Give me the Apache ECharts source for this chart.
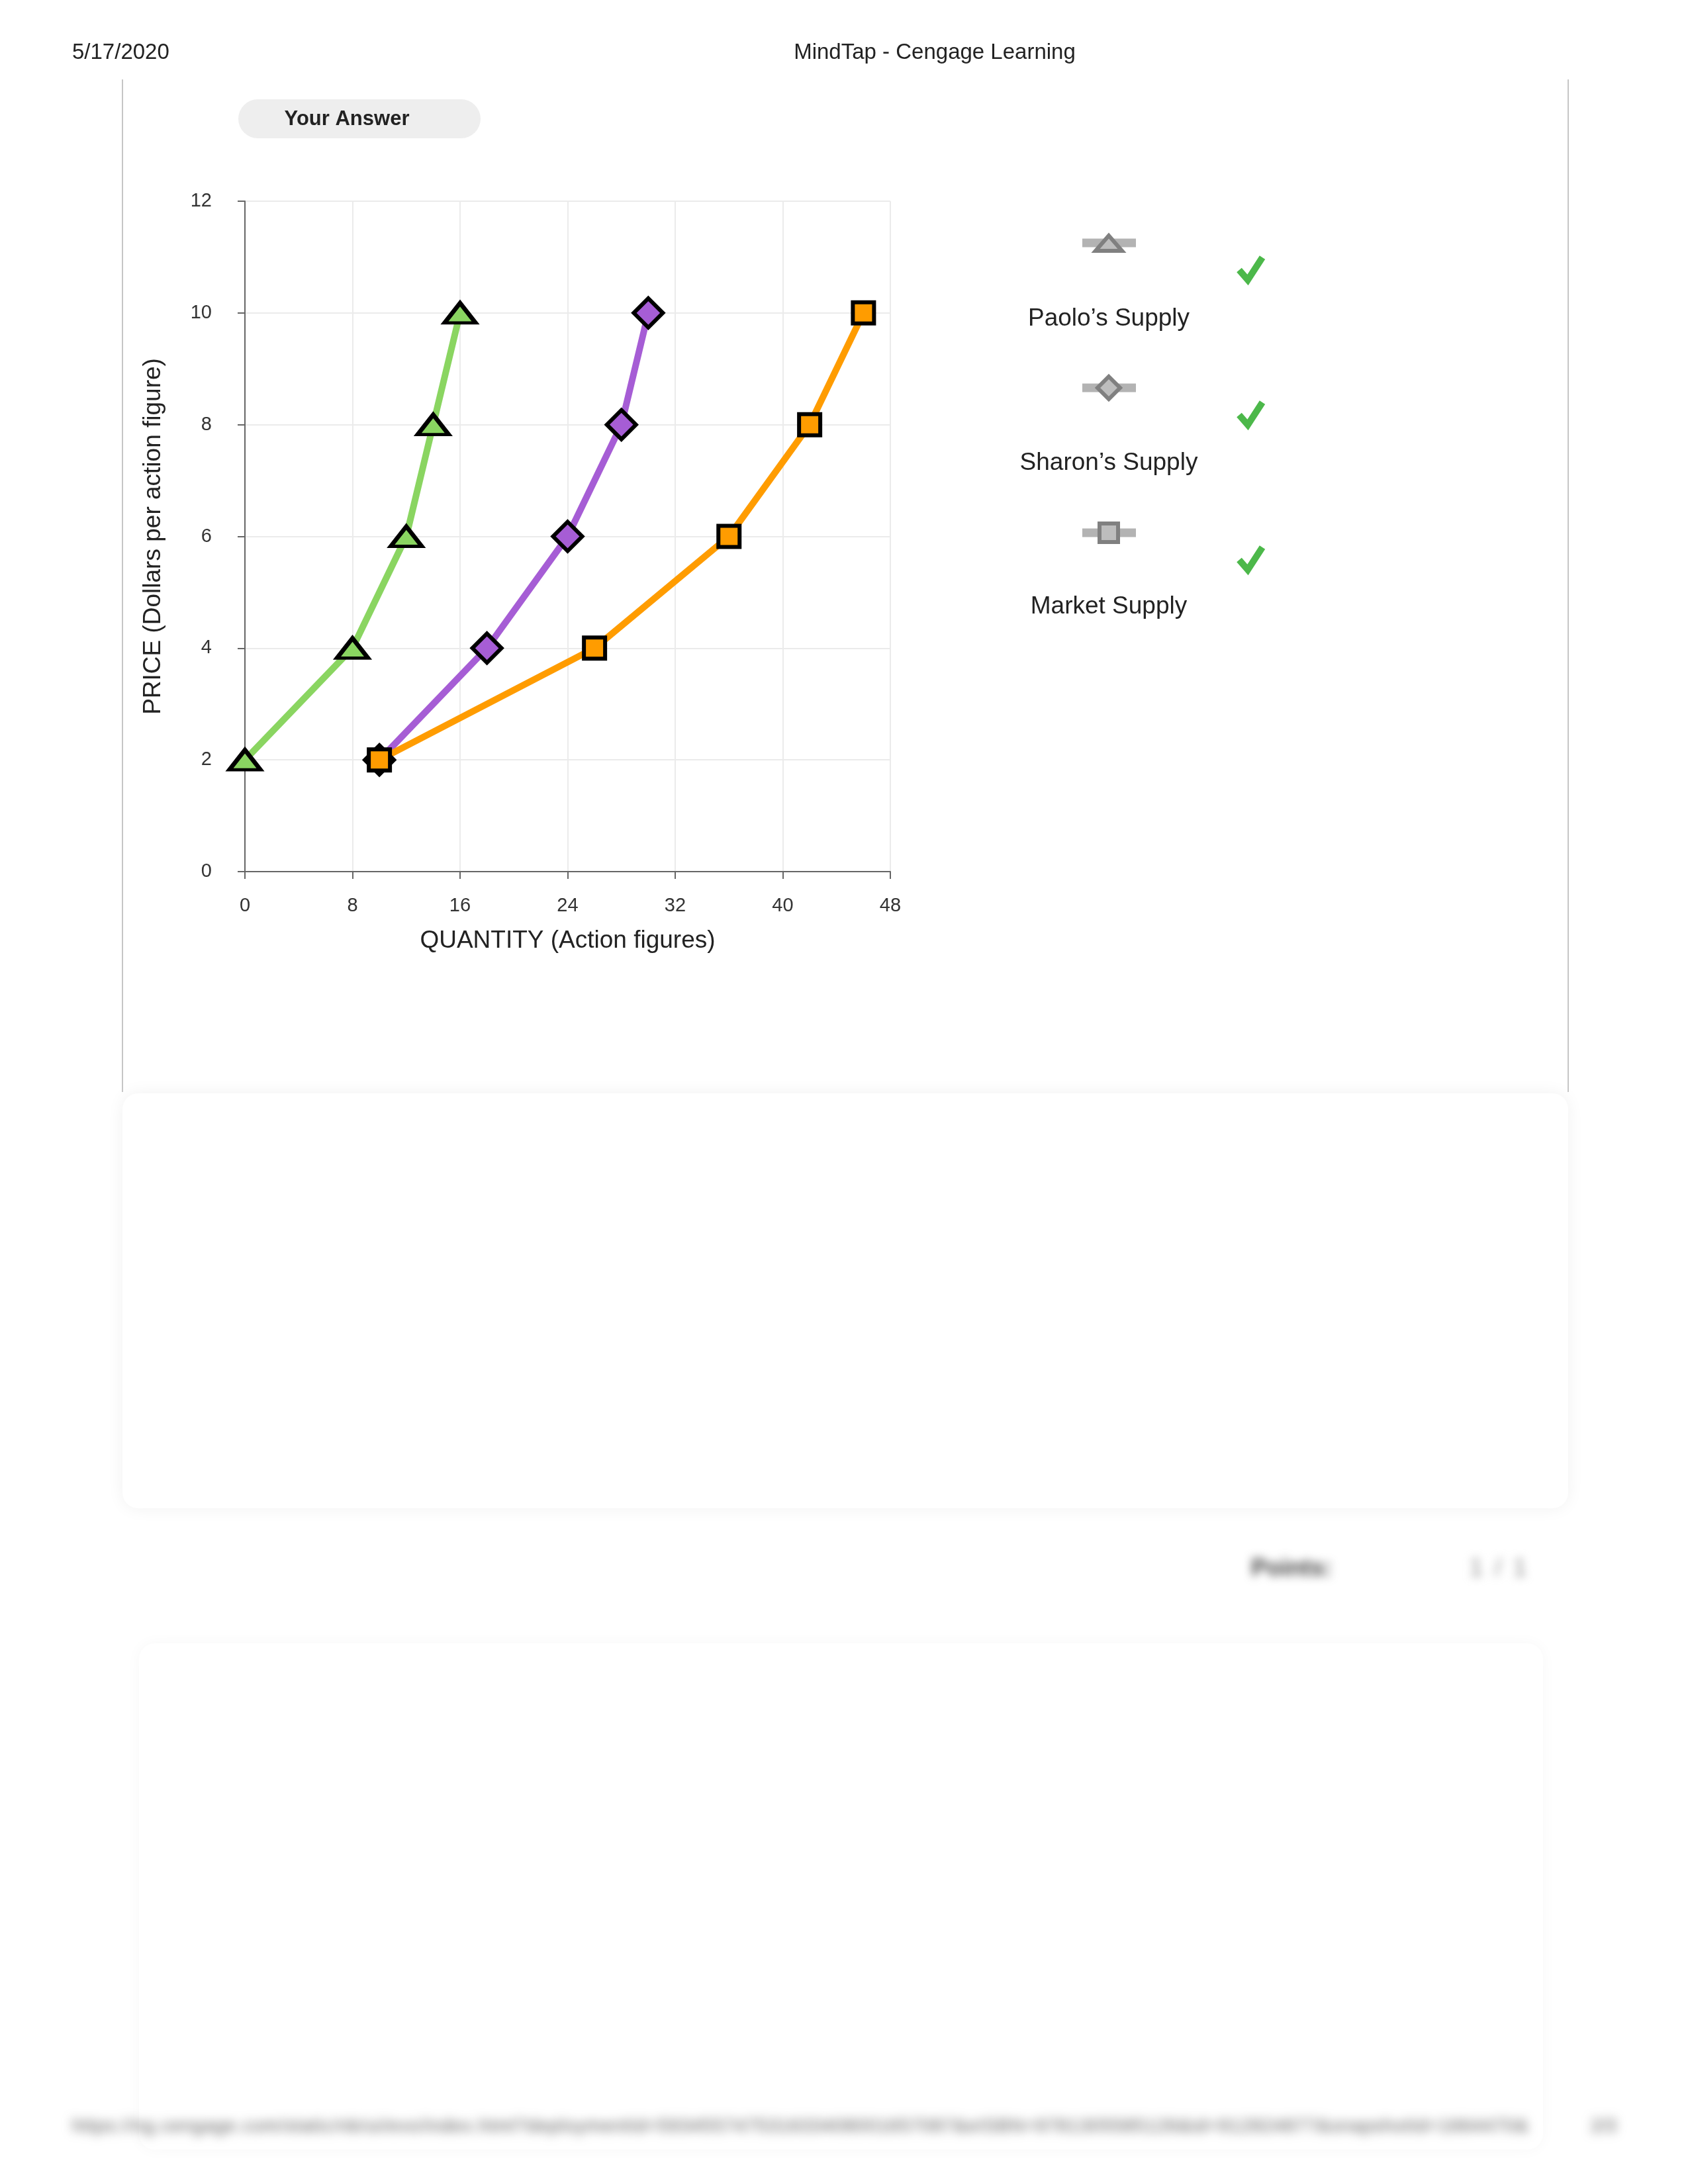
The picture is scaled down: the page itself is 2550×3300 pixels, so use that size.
<!DOCTYPE html>
<html>
<head>
<meta charset="utf-8">
<script src="https://cdn.jsdelivr.net/npm/echarts@6/dist/echarts.min.js"></script>
<style>
  html, body { margin: 0; padding: 0; background: #ffffff; }
  #chart { position: absolute; left: 0; top: 0; width: 2550px; height: 3300px; }
  .blur { position: absolute; font-family: "Liberation Sans", Arial, sans-serif; color: #333; white-space: nowrap; filter: blur(7px); }
  .box { position: absolute; background: #fff; border-radius: 24px; box-shadow: 0 0 26px rgba(0,0,0,0.06); }
</style>
</head>
<body>
<div class="box" style="left:185px; top:1652px; width:2184px; height:627px;"></div>
<div class="box" style="left:210px; top:2483px; width:2121px; height:765px; box-shadow: 0 0 22px rgba(0,0,0,0.035);"></div>
<div class="blur" style="left:1890px; top:2348px; font-size:36px; font-weight:bold; color:#444;">Points:</div>
<div class="blur" style="left:2220px; top:2348px; font-size:36px; color:#888; letter-spacing:4px;">1 / 1</div>
<div class="blur" style="left:109px; top:3196px; font-size:28px; color:#555; letter-spacing:1px; filter: blur(8px);">https://ng.cengage.com/static/nb/ui/evo/index.html?deploymentId=593455747531633408001657087&amp;eISBN=9781305585126&amp;id=912824877&amp;snapshotId=1664470&amp;</div>
<div class="blur" style="left:2403px; top:3196px; font-size:28px; color:#555; filter: blur(8px);">2/3</div>
<div id="chart"></div>
<script>
// ---- data ----
const paoloQty   = [0, 8, 12, 14, 16];
const paoloPrice = [2, 4, 6, 8, 10];
const sharonQty   = [10, 18, 24, 28, 30];
const sharonPrice = [2, 4, 6, 8, 10];
const marketQty   = [10, 26, 36, 42, 46];
const marketPrice = [2, 4, 6, 8, 10];
const seriesNames = ["Paolo\u2019s Supply", "Sharon\u2019s Supply", "Market Supply"];
const xTitle = "QUANTITY (Action figures)";
const yTitle = "PRICE (Dollars per action figure)";

const FONT = '"Liberation Sans", Arial, sans-serif';
const pair = (xs, ys) => xs.map((x, i) => [x, ys[i]]);

const chart = echarts.init(document.getElementById('chart'), null, { renderer: 'canvas' });

function txt(text, x, y, size, opts) {
  opts = opts || {};
  return {
    type: 'text', z: 100,
    style: {
      text: text, x: x, y: y,
      font: (opts.weight || 'normal') + ' ' + size + 'px ' + FONT,
      fill: opts.fill || '#222',
      textAlign: opts.align || 'center', align: opts.align || 'center',
      textVerticalAlign: 'middle', verticalAlign: 'middle'
    }
  };
}
function check(cx, cy) {
  return {
    type: 'polyline', z: 100,
    shape: { points: [[cx - 17, cy + 3], [cx - 4, cy + 18], [cx + 18, cy - 16]] },
    style: { stroke: '#4cb84a', lineWidth: 10, fill: null, lineCap: 'butt', lineJoin: 'miter' }
  };
}
function legLine(cy) {
  return { type: 'rect', z: 90, shape: { x: 1635, y: cy - 6.5, width: 81, height: 13 }, style: { fill: '#b3b3b3' } };
}
const legFill = '#bdbdbd', legStroke = '#808080';

const graphics = [
  txt('5/17/2020', 109, 80, 33, { align: 'left' }),
  txt('MindTap - Cengage Learning', 1412, 80, 33),
  { type: 'line', shape: { x1: 185, y1: 120, x2: 185, y2: 1650 }, style: { stroke: '#c6c6c6', lineWidth: 2 } },
  { type: 'line', shape: { x1: 2369, y1: 120, x2: 2369, y2: 1650 }, style: { stroke: '#c6c6c6', lineWidth: 2 } },
  { type: 'rect', shape: { x: 360, y: 150, width: 366, height: 59, r: 29.5 }, style: { fill: '#eeeeee' } },
  txt('Your Answer', 524, 180, 31, { weight: 'bold' }),
  // legend
  legLine(367),
  { type: 'polygon', z: 95, shape: { points: [[1675, 356], [1655, 379], [1695, 379]] }, style: { fill: legFill, stroke: legStroke, lineWidth: 6, lineJoin: 'miter' } },
  txt(seriesNames[0], 1675, 482, 37),
  check(1889, 405),
  legLine(586),
  { type: 'polygon', z: 95, shape: { points: [[1675, 569], [1692, 586], [1675, 603], [1658, 586]] }, style: { fill: legFill, stroke: legStroke, lineWidth: 6, lineJoin: 'miter' } },
  txt(seriesNames[1], 1675, 700, 37),
  check(1889, 624),
  legLine(805),
  { type: 'rect', z: 95, shape: { x: 1661, y: 791, width: 28, height: 28 }, style: { fill: legFill, stroke: legStroke, lineWidth: 6 } },
  txt(seriesNames[2], 1675, 917, 37),
  check(1889, 843)
];

function lineSeries(name, data, color, symbol, size) {
  return {
    name: name, type: 'line', data: data,
    symbol: symbol, symbolSize: size, showSymbol: true,
    lineStyle: { color: color, width: 10 },
    itemStyle: { color: color, borderColor: '#000', borderWidth: 6 },
    emphasis: { disabled: true },
    animation: false
  };
}

const axisLabelStyle = { color: '#333', fontSize: 29, fontFamily: FONT };

chart.setOption({
  backgroundColor: 'transparent',
  animation: false,
  grid: { left: 370, top: 304, width: 975, height: 1013, containLabel: false },
  xAxis: {
    type: 'value', min: 0, max: 48, interval: 8,
    name: xTitle, nameLocation: 'middle', nameGap: 86,
    nameTextStyle: { color: '#222', fontSize: 37, fontFamily: FONT },
    axisLine: { show: true, onZero: false, lineStyle: { color: '#666', width: 2 } },
    axisTick: { show: true, length: 11, lineStyle: { color: '#666', width: 2 } },
    axisLabel: Object.assign({ margin: 37 }, axisLabelStyle),
    splitLine: { show: true, lineStyle: { color: '#ebebeb', width: 2 } }
  },
  yAxis: {
    type: 'value', min: 0, max: 12, interval: 2,
    name: yTitle, nameLocation: 'middle', nameGap: 120,
    nameTextStyle: { color: '#222', fontSize: 37, fontFamily: FONT },
    axisLine: { show: true, onZero: false, lineStyle: { color: '#666', width: 2 } },
    axisTick: { show: true, length: 11, lineStyle: { color: '#666', width: 2 } },
    axisLabel: Object.assign({ margin: 50 }, axisLabelStyle),
    splitLine: { show: true, lineStyle: { color: '#ebebeb', width: 2 } }
  },
  series: [
    lineSeries(seriesNames[0], pair(paoloQty, paoloPrice), '#8ad561', 'triangle', [47, 30]),
    lineSeries(seriesNames[1], pair(sharonQty, sharonPrice), '#a65dd5', 'diamond', 44),
    lineSeries(seriesNames[2], pair(marketQty, marketPrice), '#ff9c00', 'rect', 32)
  ],
  graphic: graphics
});
</script>
</body>
</html>
